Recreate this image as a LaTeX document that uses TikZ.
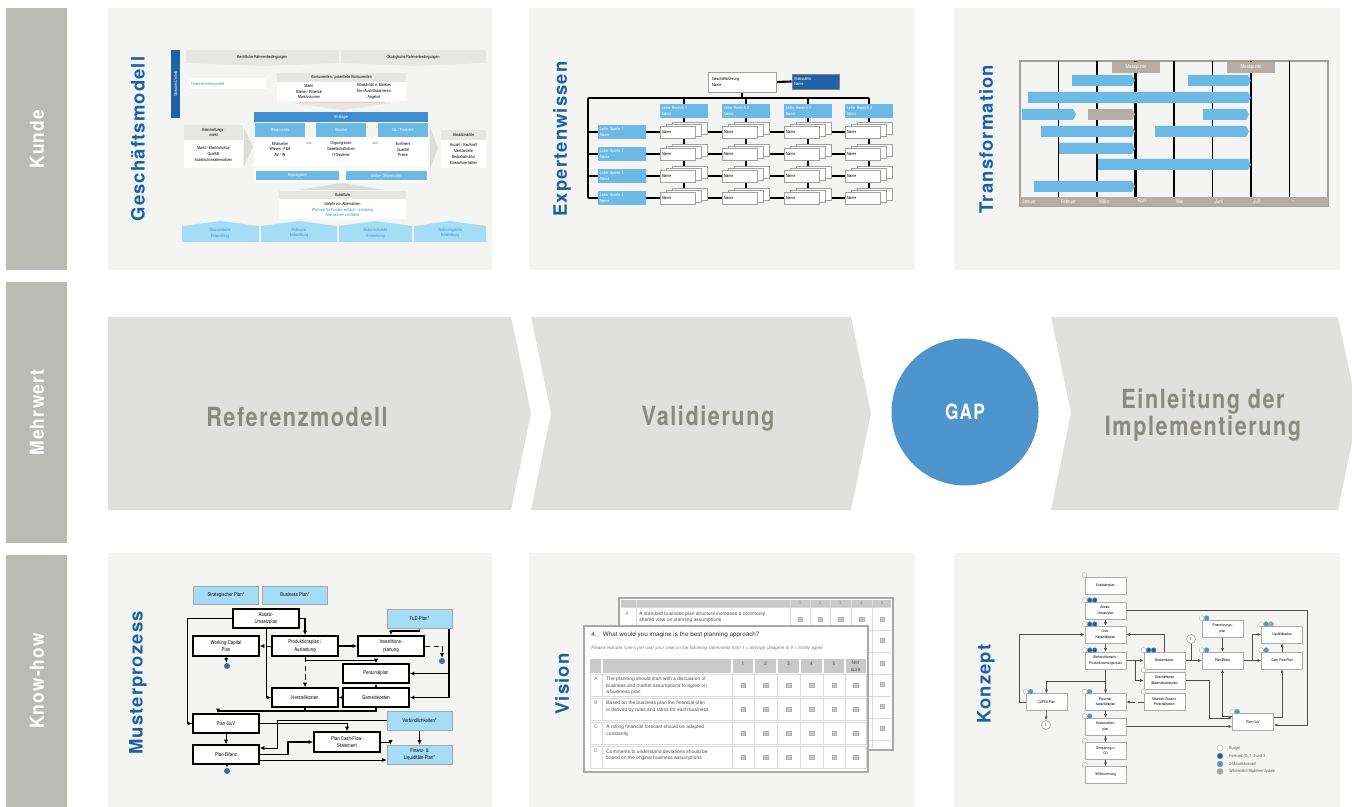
\documentclass[tikz,border=0pt]{standalone}
\usepackage{fontspec}
\setmainfont{TeX Gyre Heros}
\newfontfamily\condfont[FakeStretch=0.82]{TeX Gyre Heros}
\newfontfamily\sidefont[FakeStretch=0.9,LetterSpace=6]{TeX Gyre Heros}
\newfontfamily\titlefont[LetterSpace=6]{TeX Gyre Heros}
\newfontfamily\chevfont[FakeStretch=0.82,LetterSpace=6]{TeX Gyre Heros}
\usetikzlibrary{positioning}
\usetikzlibrary{arrows.meta}

\definecolor{sidegray}{HTML}{BBBBB5}
\definecolor{panelgray}{HTML}{F4F4F2}
\definecolor{chevgray}{HTML}{E0E0DF}
\definecolor{chevtext}{HTML}{8A8A82}
\definecolor{gapblue}{HTML}{4F95CD}
\definecolor{titleblue}{HTML}{1B5FA4}
\definecolor{darkblue}{HTML}{1F63A6}
\definecolor{midblue}{HTML}{3F8FCF}
\definecolor{lightblue}{HTML}{6CB9E6}
\definecolor{paleblue}{HTML}{A6DDF6}
\definecolor{taupe}{HTML}{B5AEA5}
\definecolor{boxline}{HTML}{A0A0A0}
\definecolor{hdrgray}{HTML}{E6E6E4}
\definecolor{fadegray}{HTML}{DCDCDA}
\definecolor{tblgray}{HTML}{C9C9C9}
\definecolor{sheetgray}{HTML}{A8A8A8}
\definecolor{dotblue}{HTML}{2E6FB5}
\definecolor{stw}{HTML}{FFFFFF}
\definecolor{std}{HTML}{1F5FA0}
\definecolor{stm}{HTML}{4A97D4}
\definecolor{stg}{HTML}{A9A39B}

\pgfdeclarelayer{base}
\pgfdeclarelayer{wires}
\pgfsetlayers{base,wires,main}

\tikzset{
  wh/.style 2 args={minimum width=#1*0.02cm, minimum height=#2*0.02cm},
  tiny/.style={font=\condfont\fontsize{2.4}{3.3}\selectfont, inner sep=0pt, align=center},
  small/.style={font=\condfont\fontsize{3}{4.2}\selectfont, inner sep=0pt, align=center},
  sidelabel/.style={rotate=90, text=white, font=\sidefont\bfseries\fontsize{11}{13}\selectfont},
  ptitle/.style={rotate=90, text=titleblue, font=\titlefont\bfseries\fontsize{10.5}{12}\selectfont},
  chevlabel/.style={text=chevtext, align=center, font=\chevfont\bfseries\fontsize{15}{13}\selectfont},
  lbox/.style={fill=lightblue, wh={48}{14}, tiny, text=white, align=left, text width=0.88cm},
  nbox/.style={fill=white, draw=boxline, line width=0.3pt, wh={35}{12}, tiny, align=left, text width=0.62cm},
  mbox/.style={draw=black, line width=0.9pt, fill=white, wh={66}{19}, small},
  mpale/.style={draw=gray!70, line width=0.4pt, fill=paleblue, wh={65}{18}, small},
  mdot/.style={circle, fill=dotblue, inner sep=0pt, minimum size=6*0.02cm},
  marr/.style={-{Latex[length=0.9mm,width=0.8mm]}, line width=0.4pt},
  thick1/.style={line width=1pt},
  kbox/.style={fill=white, draw=gray!65, line width=0.4pt, wh={41}{17}, font=\condfont\fontsize{2.1}{3}\selectfont, inner sep=0pt, align=center},
  karr/.style={-{Latex[length=0.7mm,width=0.6mm]}, line width=0.35pt, draw=gray!60!black},
  stat/.style={circle, inner sep=0pt, minimum size=5*0.02cm, draw=gray!70, line width=0.2pt, fill=st#1},
  chk/.style={rectangle, fill=gray!45, draw=gray!60, line width=0.2pt, inner sep=0pt, minimum size=4.5*0.02cm},
  vtext/.style={font=\fontsize{2.8}{3.7}\selectfont, inner sep=0pt, text=black!70, align=left},
  chart/.style={font=\condfont\fontsize{3}{3.6}\selectfont, inner sep=0pt, text=white},
}

\begin{document}
\begin{tikzpicture}[x=0.02cm, y=-0.02cm]
\useasboundingbox (0,0) rectangle (1352,807);

% Background and panels
\begin{pgfonlayer}{base}
\fill[white] (0,0) rectangle (1352,807);
\foreach \xa/\xb in {108/492, 529/915, 954/1340} {
    \fill[panelgray] (\xa,8) rectangle (\xb,270);
    \fill[panelgray] (\xa,553) rectangle (\xb,807);
}
\end{pgfonlayer}

% Row labels
\foreach \ya/\yb/\lab [count=\i] in {8/270/Kunde, 282/543/Mehrwert, 555/807/Know-how} {
    \fill[sidegray] (6,\ya) rectangle (67,\yb);
    \node[sidelabel] (side\i) at (37,{(\ya+\yb)/2}) {\lab};
}

% Panel titles
\node[ptitle] (tgm) at (138,139) {Geschäftsmodell};
\node[ptitle] (tex) at (562,139) {Expertenwissen};
\node[ptitle] (ttr) at (986,139) {Transformation};
\node[ptitle] (tmu) at (138,683) {Musterprozess};
\node[ptitle] (tvi) at (562,684) {Vision};
\node[ptitle] (tko) at (986,684) {Konzept};

% Chevrons
\fill[chevgray] (108,317) -- (511,317) -- (531,413) -- (511,510) -- (108,510) -- cycle;
\fill[chevgray] (531,317) -- (851,317) -- (871,413) -- (851,510) -- (531,510) -- (551,413) -- cycle;
\fill[chevgray] (1051,317) -- (1338,317) -- (1358,413) -- (1338,510) -- (1051,510) -- (1071,413) -- cycle;
\node[chevlabel] (refmod) at (297,417) {Referenzmodell};
\node[chevlabel] (valid) at (708,419) {Validierung};
\node[chevlabel] (einl) at (1203,415) {Einleitung der\\Implementierung};
\node[circle, fill=gapblue, minimum size=147*0.02cm, inner sep=0pt, text=white,
      font=\chevfont\bfseries\fontsize{12}{14}\selectfont] (gap) at (965,412) {GAP};

% Geschaeftsmodell
\node[fill=darkblue, rotate=90, wh={68}{9}, tiny, text=white] (umfeld) at (175.5,84) {Globales Umfeld};
\fill[hdrgray] (186,50) -- (339,50) -- (339,63) -- (262,66) -- (186,63) -- cycle;
\fill[hdrgray] (341,50) -- (486,50) -- (486,63) -- (413,66) -- (341,63) -- cycle;
\node[tiny] (recht) at (262,57) {Rechtliche Rahmenbedingungen};
\node[tiny] (oeko) at (413,57) {Ökologische Rahmenbedingungen};
\node[fill=white, wh={77}{9}] (ubox) at (227.5,83.5) {};
\node[tiny, text=midblue, anchor=west] (utext) at (191,83.5) {Unternehmensumfeld};
\fill[hdrgray] (277,73) rectangle (406,82);
\fill[white] (277,82) rectangle (406,101);
\node[tiny] (konk) at (341.5,77.5) {Konkurrenten / potentielle Konkurrenten};
\node[tiny] (konkl) at (309,91.5) {Markt\\Stärke / Potential\\Marktvolumen};
\node[tiny] (konkr) at (374,91.5) {Attraktivität d. Marktes\\Ein-/Austrittsbarrieren\\Angebot};
\draw[red!25, line width=0.3pt] (300,102) -- (385,102);
\fill[hdrgray] (292,103) -- (392,103) -- (342,110) -- cycle;
\node[fill=midblue, wh={174}{10}, tiny, text=white] (strategie) at (341,117) {Strategie};
\node[fill=lightblue, wh={50}{14}, tiny, text=white] (ress) at (280,130) {Ressourcen};
\node[fill=lightblue, wh={50}{14}, tiny, text=white] (struk) at (341,130) {Struktur};
\node[fill=lightblue, wh={50}{14}, tiny, text=white] (dlprod) at (403,130) {DL / Produkte};
\fill[white] (254,137) rectangle (428,167);
\node[tiny] (ress1) at (280,149.5) {Mitarbeiter\\Wissen / F\&A\\AV / IN};
\node[tiny] (struk1) at (341,149.5) {Organigramm\\Gesellschaftsform\\IT-Systeme};
\node[tiny] (dlprod1) at (403,149.5) {Sortiment\\Qualität\\Preise};
\path (ress1) -- (struk1) coordinate[pos=0.5] (dm1);
\path (struk1) -- (dlprod1) coordinate[pos=0.5] (dm2);
\foreach \d in {dm1,dm2}
    \draw[{Latex[length=0.5mm]}-{Latex[length=0.5mm]}, gray!40, line width=0.6pt]
        ([xshift=-0.08cm, yshift=0.13cm]\d) -- ([xshift=0.08cm, yshift=0.13cm]\d);
\fill[hdrgray] (184,125) rectangle (243,140);
\fill[white] (184,140) rectangle (243,168);
\node[tiny] (besch) at (213.5,132.5) {Beschaffungs-\\markt};
\node[tiny] (besch1) at (213.5,154) {Markt-/ Machtstruktur\\Qualität\\Substitutionsalternativen};
\fill[hdrgray] (441,130) rectangle (486,140);
\fill[white] (441,140) rectangle (486,168);
\node[tiny] (absm) at (463.5,135) {Absatzmärkte};
\node[tiny] (absm1) at (463.5,154) {Anzahl / Kaufkraft\\Marktanteile\\Bedarfsstruktur\\Einkaufsverhalten};
\fill[fadegray] (244,128) -- (253,147) -- (244,166) -- cycle;
\fill[fadegray] (430,127) -- (438,148) -- (430,169) -- cycle;
\fill[white] (254,168) rectangle (428,182);
\node[fill=lightblue, wh={83}{9}, tiny, text=white] (kapital) at (297.5,175.5) {Kapitalgeber};
\node[fill=lightblue, wh={81}{9}, tiny, text=white] (stake) at (386.5,175.5) {Stake-/ Shareholder};
\fill[fadegray] (298,190) -- (342,183) -- (385,190) -- cycle;
\fill[hdrgray] (279,191) rectangle (406,199);
\fill[white] (279,199) rectangle (406,219);
\node[tiny] (subst) at (342.5,195) {Substitute};
\node[tiny] (subst1) at (342.5,209.5) {Gefahr von Alternativen\\\textcolor{midblue}{Wechsel für Kunden einfach – schwierig}\\\textcolor{midblue}{Alternativen am Markt}};
\foreach \xa/\xb in {182/259, 261/337, 339/412, 414/486}
    \fill[paleblue] (\xa,226) -- ({(\xa+\xb)/2},221) -- (\xb,226) -- (\xb,242) -- (\xa,242) -- cycle;
\node[tiny, text=midblue] (oekon) at (220,233) {Ökonomische\\Entwicklung};
\node[tiny, text=midblue] (polit) at (299,233) {Politische\\Entwicklung};
\node[tiny, text=midblue] (sozio) at (375.5,233) {Sozio-kulturelle\\Entwicklung};
\node[tiny, text=midblue] (techn) at (450,233) {Technologische\\Entwicklung};

% Expertenwissen
\node[fill=white, draw=boxline, line width=0.4pt, wh={68}{20}, tiny, align=left, text width=1.2cm] (gf) at (742,82) {Geschäftsführung\\Name};
\node[fill=darkblue, draw=gray, line width=0.4pt, wh={47}{15}, tiny, text=white, align=left, text width=0.85cm] (stab) at (815.5,81.5) {Stabsstelle\\Name};
\foreach \i/\x in {1/684, 2/746, 3/808, 4/869}
    \node[lbox] (ber\i) at (\x,111) {Leiter Bereich \i\\Name};
\foreach \j/\y in {1/132, 2/154, 3/176, 4/198}
    \node[lbox] (sp\j) at (622,\y) {Leiter Sparte \j\\Name};
\foreach \i/\x in {1/660, 2/722, 3/784, 4/845} {
    \foreach \j/\y in {1/132, 2/154, 3/176, 4/198} {
        \filldraw[fill=white, draw=boxline, line width=0.3pt] (\x+12,\y-10) rectangle (\x+47,\y+2);
        \filldraw[fill=white, draw=boxline, line width=0.3pt] (\x+6,\y-8) rectangle (\x+41,\y+4);
        \node[nbox] (nm\i\j) at (\x+17.5,\y) {Name};
    }
}
\coordinate (busl) at (588,98);
\begin{pgfonlayer}{wires}
\draw[line width=1.2pt] (gf.east) -- (stab.west);
\draw[line width=1pt] (gf.south) -- (gf.south |- busl);
\draw[line width=0.9pt] (busl) -- (ber4.north |- busl);
\foreach \i in {1,...,4}
    \draw[line width=0.6pt] (ber\i.north |- busl) -- (ber\i.north);
\draw[line width=0.6pt] (busl) -- (busl |- sp4.west);
\foreach \j/\w in {1/0.6, 2/0.6, 3/1.1, 4/1.1} {
    \draw[line width=\w pt] (busl |- sp\j.west) -- (sp\j.west);
    \draw[line width=\w pt] (sp\j.east) -- (nm4\j.center);
}
\foreach \i/\w in {1/0.6, 2/0.6, 3/1.1, 4/0.6}
    \draw[line width=\w pt] (ber\i.south) -- (ber\i.south |- nm\i4.center);
\end{pgfonlayer}

% Transformation
\filldraw[fill=panelgray, draw=boxline, line width=0.6pt] (1020,61) rectangle (1328,206);
\foreach \k/\w in {1/0.9, 2/0.9, 3/1.6, 4/0.9, 5/0.9, 6/1.6, 7/0.9}
    \draw[line width=\w pt] (1020+38.5*\k,61) -- (1020+38.5*\k,197);
\fill[taupe] (1020,197) rectangle (1328,206);
\foreach \m [count=\k from 0] in {Januar, Februar, März, April, Mai, Juni, Juli, ..}
    \node[chart, anchor=west] (mon\k) at (1022+38.5*\k,201.5) {\m};
\foreach \xa/\xb/\yt/\c in {1072/1135/75/lightblue, 1188/1251/75/lightblue, 1028/1251/92/lightblue,
        1022/1076/109/lightblue, 1088/1135/109/taupe, 1203/1249/109/lightblue,
        1041/1135/126/lightblue, 1155/1249/126/lightblue, 1059/1135/143/lightblue,
        1098/1251/159/lightblue, 1034/1135/181/lightblue}
    \fill[\c] (\xa,\yt) -- (\xb-3,\yt) -- (\xb,\yt+5.5) -- (\xb-3,\yt+11) -- (\xa,\yt+11) -- cycle;
\node[fill=taupe, wh={48}{11}, chart] (mess1) at (1136,67.5) {Messpunkt};
\node[fill=taupe, wh={48}{11}, chart] (mess2) at (1251,67.5) {Messpunkt};

% Musterprozess
\node[mpale] (splan) at (226,595) {Strategischer Plan*};
\node[mpale] (bplan) at (295,595) {Business Plan*};
\node[mbox] (absatz) at (266,618.5) {Absatz-\\Umsatzplan};
\node[mpale, wh={65}{19}] (fue) at (419.5,618.5) {FuE-Plan*};
\node[mbox, wh={66}{20}] (wcap) at (226,646) {Working-Capital\\Plan};
\node[mbox, wh={66}{20}] (prod) at (305,646) {Produktionsplan /\\Auslastung};
\node[mbox, wh={66}{20}] (invest) at (391,646) {Investitions-\\planung};
\node[mbox] (personal) at (376,673.5) {Personalplan};
\node[mbox] (herst) at (305,697.5) {Herstellkosten};
\node[mbox] (gemein) at (376,697.5) {Gemeinkosten};
\node[mpale, wh={65}{19}] (verb) at (419.5,720.5) {Verbindlichkeiten*};
\node[mbox] (guv) at (226,723.5) {Plan-GuV};
\node[mbox, wh={66}{20}] (cflow) at (347,742) {Plan Cash-Flow-\\Statement};
\node[mbox] (bilanz) at (226,754.5) {Plan-Bilanz};
\node[mpale, wh={65}{19}] (finanz) at (419.5,754.5) {Finanz- \&\\Liquiditäts-Plan*};
\node[mdot] (dot1) at (227,666) {};
\node[mdot] (dot2) at (442,661) {};
\node[mdot] (dot3) at (227,771) {};
\coordinate (fuer) at ([xshift=-0.06cm]fue.south east);
\begin{pgfonlayer}{wires}
\draw[marr, thick1] (absatz.east) -| (prod.north);
\draw[marr] (absatz.west) -- ++(-45,0) |- (guv.west);
\draw[marr] (absatz.south) |- (herst.west);
\draw[marr, densely dashed] (prod.west) -- (wcap.east);
\draw[marr, densely dashed] (wcap.south) -- (dot1);
\draw[marr, thick1] (prod.east) -- (invest.west);
\draw[marr, densely dashed] (invest.east) -| (dot2);
\draw[marr, thick1] (fue.south) -- ++(0,3) -| (invest.north);
\draw[marr, thick1] (fuer) |- (personal.east);
\draw[marr, thick1] (fuer) |- (gemein.east);
\draw[marr] (prod.south) -- ++(0,4) -| (personal.north);
\draw[marr, densely dashed] (prod.south) -- (herst.north);
\draw[marr] (gemein.north) -- (personal.south);
\draw[marr] (gemein.west) -- (herst.east);
\draw[thick1] (herst.south) -- ++(0,3);
\draw[marr, thick1] (gemein.south) -- ++(0,3) -| ([xshift=-0.16cm]guv.north);
\draw[marr] (guv.south) -- (bilanz.north);
\draw[marr] (guv.east) -| (cflow.north);
\draw[marr] (verb.west) -- ++(-109,0) |- ([yshift=0.13cm]bilanz.east);
\draw[marr] (verb.south) -- (finanz.north);
\draw[marr, thick1] (bilanz.east) -- ++(28,0) |- (cflow.west);
\draw[marr] (cflow.east) -| ([xshift=-0.58cm]finanz.north);
\draw[marr] ([yshift=-0.11cm]bilanz.east) -- ([yshift=-0.11cm]finanz.west);
\draw[marr] (dot3.north |- bilanz.south) -- (dot3);
\end{pgfonlayer}

% Vision
\filldraw[fill=white, draw=sheetgray, line width=1.1pt] (619,598) rectangle (893,750);
\fill[tblgray] (621,600) rectangle (891,607);
\foreach \xc in {636,790,810,830,851,872}
    \draw[gray!30, line width=0.3pt] (\xc,600) -- (\xc,748);
\foreach \yc in {607,630,652,674,696,718,740}
    \draw[gray!30, line width=0.3pt] (621,\yc) -- (891,\yc);
\foreach \n/\xc in {1/800, 2/820, 3/840.5, 4/861.5, 5/882}
    \node[tiny, text=gray] (bh\n) at (\xc,603.5) {\n};
\node[vtext, text=gray] (bla) at (627,614) {A};
\node[vtext, anchor=west] (bta) at (639,617) {A standard business plan structure increases a commonly\\shared view on planning assumptions};
\foreach \xc [count=\k] in {800,820,840.5,861.5}
    \node[chk] (bchk\k) at (\xc,619) {};
\foreach \yc [count=\k] in {619,640,663,684,706,728}
    \node[chk] (bcol\k) at (882,\yc) {};
\filldraw[fill=white, draw=sheetgray, line width=1.1pt] (584,626) rectangle (868,772);
\node[anchor=west, font=\fontsize{3.6}{4}\selectfont, text=black!80, inner sep=0pt] (vq) at (591,634.5) {4.\quad What would you imagine is the best planning approach?};
\node[anchor=west, font=\itshape\fontsize{2.6}{3}\selectfont, text=gray, inner sep=0pt] (vhint) at (591,648) {Please indicate (one x per row) your view on the following statements from 1 = strongly disagree to 5 = totally agree};
\fill[tblgray] (590,659) rectangle (866,673);
\foreach \xc in {602,732,754,777,800,823,845}
    \draw[white, line width=0.6pt] (\xc,659) -- (\xc,673);
\foreach \n/\xc in {1/743, 2/765.5, 3/788.5, 4/811.5, 5/834}
    \node[vtext, text=gray!60!black] (fh\n) at (\xc,664) {\n};
\node[vtext, text=gray!60!black, align=center] (fhns) at (855.5,666) {Not\\sure};
\foreach \ya/\yb/\l in {674/696/A, 698/720/B, 722/744/C, 746/768/D} {
    \draw[gray!30, line width=0.3pt] (590,\ya) rectangle (866,\yb);
    \foreach \xc in {602,732,754,777,800,823,845}
        \draw[gray!30, line width=0.3pt] (\xc,\ya) -- (\xc,\yb);
    \node[vtext, text=gray] (lab\l) at (596,{\ya+5}) {\l};
    \foreach \xc [count=\k] in {743,765.5,788.5,811.5,834,855.5}
        \node[chk] (chk\l\k) at (\xc,{(\ya+\yb)/2}) {};
}
\node[vtext, anchor=north west] (ta) at (606,677) {The planning should start with a discussion of\\business and market assumptions to agree on\\a business plan};
\node[vtext, anchor=north west] (tb) at (606,701) {Based on the business plan the financial plan\\is derived by rules and ratios for each business};
\node[vtext, anchor=north west] (tc) at (606,725) {A rolling financial forecast should be adapted\\constantly};
\node[vtext, anchor=north west] (td) at (606,749) {Comments to understand deviations should be\\based on the original business assumptions};

% Konzept
\node[kbox] (keck) at (1105.5,585.5) {Eckdatenplan};
\node[kbox] (kabs) at (1105.5,610.5) {Absatz-\\Umsatzplan};
\node[kbox] (kgrob) at (1105.5,634.5) {Grob-\\Kapazitätsplan};
\node[kbox] (kwerk) at (1105.5,660.5) {Werkstoffbedarfs-/\\Produktionsmengenplan};
\node[kbox] (kpers) at (1105.5,702) {Personal-\\kapazitätsplan};
\node[kbox] (kkost) at (1105.5,726.5) {Kostenstellen-\\plan};
\node[kbox] (keins) at (1105.5,751) {Einsparung in\\CO};
\node[kbox] (kiw) at (1105.5,775) {IW-Berechnung};
\node[kbox] (kcapex) at (1046.5,702) {CAPEX-Plan};
\node[kbox] (kbest) at (1164.5,660.5) {Bestandsplan};
\node[kbox] (kgesch) at (1164.5,680.5) {Geschäftsplan\\(Materialkostenplan)};
\node[kbox] (kmitarb) at (1164.5,702) {Mitarbeit-Gesamt-\\Personalkosten};
\node[kbox] (kfinz) at (1222.5,628.5) {Finanzierungs-\\plan};
\node[kbox] (kpbil) at (1222.5,660.5) {Plan-Bilanz};
\node[kbox] (kliq) at (1282,634.5) {Liquiditätsplan};
\node[kbox] (kcfp) at (1282,660.5) {Cash-Flow-Plan};
\node[kbox] (kpguv) at (1253,722) {Plan-GuV};
\node[circle, draw=gray!65, fill=white, line width=0.4pt, minimum size=9*0.02cm, inner sep=0pt, font=\fontsize{2.4}{3}\selectfont] (ki1) at (1191,639) {I};
\node[circle, draw=gray!65, fill=white, line width=0.4pt, minimum size=9*0.02cm, inner sep=0pt, font=\fontsize{2.4}{3}\selectfont] (ki2) at (1046,725) {I};
\foreach \n/\cs in {keck/{w}, kabs/{w,d,d}, kgrob/{w,d,d}, kwerk/{w,d,d}, kbest/{w,d,d},
        kpers/{w,m}, kkost/{w,m}, keins/{w}, kiw/{w}, kcapex/{w,m}, kgesch/{w}, kmitarb/{w},
        kfinz/{w,m}, kpbil/{w,m}, kliq/{w,m,g}, kcfp/{w,m}, kpguv/{w,m}}
    \foreach \c [count=\k from 0] in \cs
        \node[stat=\c] (\n s\k) at ([xshift=\k*0.1cm, yshift=0.03cm]\n.north west) {};
\begin{pgfonlayer}{wires}
\draw[karr] (kabs.south) -- (kgrob.north);
\draw[karr] (kgrob.south) -- (kwerk.north);
\draw[karr] (kwerk.south) -- (kpers.north);
\draw[karr] (kwerk.south) -- ++(0,12) -| (kcapex.north);
\draw[karr] (kcapex.west) -- ++(-6,0) |- (kgrob.west);
\draw[karr] (kcapex.south) -- (ki2.north);
\draw[karr] (kwerk.east) -- (kbest.west);
\draw[karr] ([xshift=0.18cm]kwerk.east) |- (kgesch.west);
\draw[karr] (kbest.north) |- (kgrob.east);
\draw[karr] (kbest.east) -- (kpbil.west);
\draw[line width=0.35pt, gray!60!black] (ki1.south) -- (ki1.south |- kpbil.west);
\draw[karr, densely dashed] (kmitarb.west) -- (kpers.east);
\draw[karr] (kpers.south) -- (kkost.north);
\draw[karr] (kkost.south) -- (keins.north);
\draw[karr] (keins.south) -- (kiw.north);
\draw[karr] (kkost.east) -- (kkost.east -| kpguv.west);
\draw[karr] (kgesch.east) -- ++(24,0) |- ([yshift=0.08cm]kpguv.west);
\draw[karr] (kfinz.south) -- (kpbil.north);
\draw[karr] (kpbil.east) -- (kcfp.west);
\draw[karr] ([xshift=0.18cm]kpbil.east) |- (kliq.west);
\draw[karr] (kcfp.north) -- (kliq.south);
\draw[karr] ([yshift=0.12cm]kpguv.west) -| (kpbil.south);
\draw[karr] ([yshift=0.1cm]kpguv.east) -| (kcfp.south);
\draw[karr] (kabs.east) -- ++(181,0) |- ([yshift=-0.06cm]kpguv.east);
\end{pgfonlayer}
% Legend
\node[stat=w, minimum size=6*0.02cm] (lg1) at (1220,748) {};
\node[stat=d, minimum size=6*0.02cm] (lg2) at (1220,756) {};
\node[stat=m, minimum size=6*0.02cm] (lg3) at (1220,764) {};
\node[stat=g, minimum size=6*0.02cm] (lg4) at (1220,771.5) {};
\node[tiny, text=gray!70!black, anchor=west] (lt1) at (1229,748) {Budget};
\node[tiny, text=gray!70!black, anchor=west] (lt2) at (1229,756) {Forecast (0), 1, 2 und 3};
\node[tiny, text=gray!70!black, anchor=west] (lt3) at (1229,764) {2-Monatsforecast};
\node[tiny, text=gray!70!black, anchor=west] (lt4) at (1229,771.5) {Wöchentlich/tägliches Update};

\end{tikzpicture}
\end{document}
